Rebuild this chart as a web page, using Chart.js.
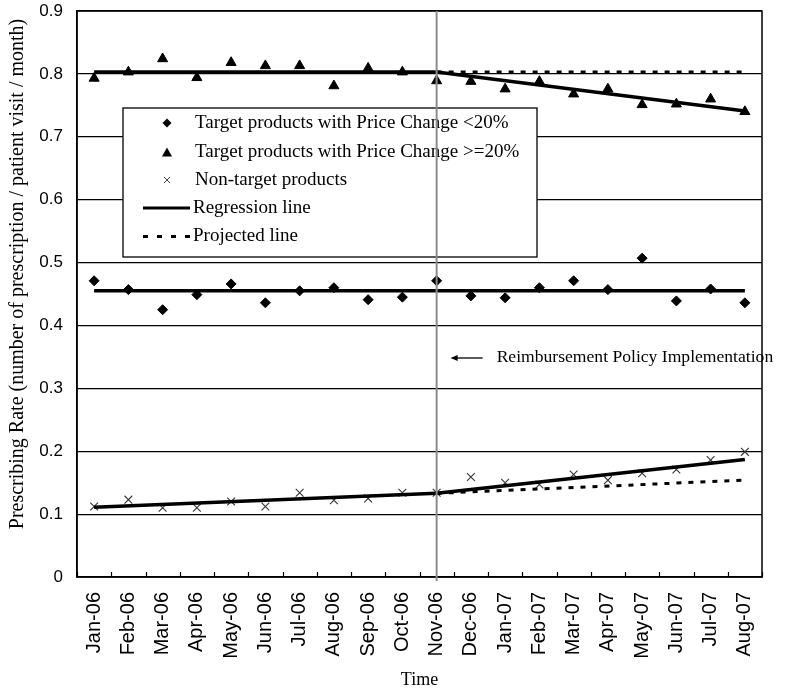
<!DOCTYPE html>
<html>
<head>
<meta charset="utf-8">
<script src="https://cdn.jsdelivr.net/npm/chart.js@4.4.1/dist/chart.umd.min.js"></script>
<style>
  html, body { margin: 0; padding: 0; background: #fff; }
  #wrap { width: 800px; height: 693px; }
</style>
</head>
<body>
<div id="wrap"><canvas id="chart" width="800" height="693"></canvas></div>
<script>
// --- data ---
const months = ['Jan-06', 'Feb-06', 'Mar-06', 'Apr-06', 'May-06', 'Jun-06', 'Jul-06', 'Aug-06', 'Sep-06', 'Oct-06',
                'Nov-06', 'Dec-06', 'Jan-07', 'Feb-07', 'Mar-07', 'Apr-07', 'May-07', 'Jun-07', 'Jul-07', 'Aug-07'];
const yTickLabels = ['0', '0.1', '0.2', '0.3', '0.4', '0.5', '0.6', '0.7', '0.8', '0.9'];

const lowChange  = [0.471, 0.457, 0.425, 0.449, 0.466, 0.436, 0.455, 0.460, 0.441, 0.445,
                    0.471, 0.447, 0.444, 0.460, 0.471, 0.457, 0.507, 0.439, 0.458, 0.436];
const highChange = [0.793, 0.803, 0.824, 0.794, 0.818, 0.813, 0.813, 0.781, 0.809, 0.803,
                    0.789, 0.788, 0.776, 0.788, 0.768, 0.776, 0.751, 0.752, 0.760, 0.740];
const nonTarget  = [0.112, 0.123, 0.110, 0.110, 0.120, 0.112, 0.134, 0.122, 0.125, 0.134,
                    0.134, 0.159, 0.150, 0.147, 0.163, 0.154, 0.165, 0.171, 0.186, 0.199];

// straight lines: [start month, end month, start value, end value]
const highRegBefore = ['Jan-06', 'Nov-06', 0.803, 0.803];
const highRegAfter  = ['Nov-06', 'Aug-07', 0.803, 0.741];
const highProjected = ['Nov-06', 'Aug-07', 0.803, 0.803];
const lowReg        = ['Jan-06', 'Aug-07', 0.455, 0.455];
const nonRegBefore  = ['Jan-06', 'Nov-06', 0.111, 0.133];
const nonRegAfter   = ['Nov-06', 'Aug-07', 0.133, 0.187];
const nonProjected  = ['Nov-06', 'Aug-07', 0.133, 0.154];

const policyMonth = 'Nov-06';

// only the two end points are set, the line spans the gap
function segment(seg) {
  const arr = months.map(() => null);
  arr[months.indexOf(seg[0])] = seg[2];
  arr[months.indexOf(seg[1])] = seg[3];
  return arr;
}

const serif = "'Liberation Serif', 'Times New Roman', serif";
const sans = "'Liberation Sans', Arial, sans-serif";

function markers(label, data, style, radius, width, color) {
  return {
    label: label, data: data, showLine: false,
    pointStyle: style, pointRadius: radius, pointHoverRadius: radius,
    pointBackgroundColor: color, pointBorderColor: color, pointBorderWidth: width
  };
}
function line(data, dashed) {
  return {
    data: data, spanGaps: true, pointRadius: 0, borderColor: '#000',
    borderWidth: dashed ? 3 : 3.5, borderDash: dashed ? [5, 7] : [], tension: 0
  };
}

// frame, inside ticks and the legend box go under the data
const underlay = {
  id: 'underlay',
  beforeDatasetsDraw(chart) {
    const { ctx, chartArea: a, scales: { x } } = chart;
    ctx.save();
    ctx.strokeStyle = '#000';
    ctx.lineWidth = 1.5;
    ctx.strokeRect(a.left, a.top, a.right - a.left, a.bottom - a.top);
    // tick marks pointing up into the plot
    ctx.beginPath();
    for (let i = 0; i <= months.length; i++) {
      const px = Math.round(x.getPixelForValue(i - 0.5)) + 0.5;
      ctx.moveTo(px, a.bottom);
      ctx.lineTo(px, a.bottom - 5);
    }
    ctx.lineWidth = 1.2;
    ctx.stroke();

    // legend box
    const bx = a.left + 46, by = a.top + 97, bw = 414, bh = 149;
    ctx.fillStyle = '#fff';
    ctx.fillRect(bx, by, bw, bh);
    ctx.lineWidth = 1.3;
    ctx.strokeRect(bx, by, bw, bh);

    const rows = [by + 15, by + 44.5, by + 72, by + 100, by + 128.5];
    const mx = bx + 44, tx = bx + 72;
    ctx.fillStyle = '#000';
    // diamond
    ctx.beginPath();
    ctx.moveTo(mx, rows[0] - 4.5); ctx.lineTo(mx + 4.5, rows[0]);
    ctx.lineTo(mx, rows[0] + 4.5); ctx.lineTo(mx - 4.5, rows[0]);
    ctx.closePath(); ctx.fill();
    // triangle
    ctx.beginPath();
    ctx.moveTo(mx, rows[1] - 5); ctx.lineTo(mx + 5, rows[1] + 4);
    ctx.lineTo(mx - 5, rows[1] + 4);
    ctx.closePath(); ctx.fill();
    // cross
    ctx.strokeStyle = '#444';
    ctx.lineWidth = 1;
    ctx.beginPath();
    ctx.moveTo(mx - 3, rows[2] - 3); ctx.lineTo(mx + 3, rows[2] + 3);
    ctx.moveTo(mx + 3, rows[2] - 3); ctx.lineTo(mx - 3, rows[2] + 3);
    ctx.stroke();
    // solid and dashed samples
    ctx.strokeStyle = '#000';
    ctx.lineWidth = 3;
    ctx.beginPath();
    ctx.moveTo(bx + 20, rows[3]); ctx.lineTo(bx + 67, rows[3]);
    ctx.stroke();
    ctx.setLineDash([5, 9]);
    ctx.beginPath();
    ctx.moveTo(bx + 20, rows[4]); ctx.lineTo(bx + 67, rows[4]);
    ctx.stroke();
    ctx.setLineDash([]);

    ctx.font = '19px ' + serif;
    ctx.textBaseline = 'middle';
    ctx.textAlign = 'left';
    ctx.fillText('Target products with Price Change <20%', tx, rows[0]);
    ctx.fillText('Target products with Price Change >=20%', tx, rows[1]);
    ctx.fillText('Non-target products', tx, rows[2]);
    ctx.fillText('Regression line', tx - 2, rows[3]);
    ctx.fillText('Projected line', tx - 2, rows[4]);
    ctx.restore();
  }
};

// policy line, annotation and axis titles go on top
const overlay = {
  id: 'overlay',
  afterDatasetsDraw(chart) {
    const { ctx, chartArea: a, scales: { x } } = chart;
    const px = x.getPixelForValue(months.indexOf(policyMonth));
    ctx.save();
    ctx.strokeStyle = '#8c8c8c';
    ctx.lineWidth = 2;
    ctx.beginPath();
    ctx.moveTo(px, a.top);
    ctx.lineTo(px, a.bottom + 4);
    ctx.stroke();

    // arrow pointing at the policy line
    const ay = 358;
    ctx.strokeStyle = '#000';
    ctx.lineWidth = 1.3;
    ctx.beginPath();
    ctx.moveTo(px + 46, ay);
    ctx.lineTo(px + 16, ay);
    ctx.stroke();
    ctx.fillStyle = '#000';
    ctx.beginPath();
    ctx.moveTo(px + 14, ay);
    ctx.lineTo(px + 21, ay - 3);
    ctx.lineTo(px + 21, ay + 3);
    ctx.closePath();
    ctx.fill();

    ctx.font = '17.6px ' + serif;
    ctx.textBaseline = 'middle';
    ctx.textAlign = 'left';
    ctx.fillText('Reimbursement Policy Implementation', px + 60, ay - 1);

    ctx.font = '18px ' + serif;
    ctx.textAlign = 'center';
    ctx.fillText('Time', (a.left + a.right) / 2 + 0, 680);

    ctx.font = '20px ' + serif;
    ctx.translate(18, 274);
    ctx.rotate(-Math.PI / 2);
    ctx.fillText('Prescribing Rate (number of prescription / patient visit / month)', 0, 0);
    ctx.restore();
  }
};

new Chart(document.getElementById('chart'), {
  type: 'line',
  data: {
    labels: months,
    datasets: [
      line(segment(highRegBefore), false),
      line(segment(highRegAfter), false),
      line(segment(highProjected), true),
      line(segment(lowReg), false),
      line(segment(nonRegBefore), false),
      line(segment(nonRegAfter), false),
      line(segment(nonProjected), true),
      markers('Target products with Price Change <20%', lowChange, 'rectRot', 5, 1, '#000'),
      markers('Target products with Price Change >=20%', highChange, 'triangle', 5.8, 1, '#000'),
      markers('Non-target products', nonTarget, 'crossRot', 5.5, 1.1, '#333')
    ]
  },
  options: {
    responsive: false,
    animation: false,
    events: [],
    layout: { padding: { top: 11, right: 38, left: 0, bottom: 0 } },
    plugins: { legend: { display: false }, tooltip: { enabled: false } },
    scales: {
      x: {
        type: 'category',
        offset: true,
        afterFit(s) { s.height = 116; },
        grid: { display: false, drawTicks: false },
        border: { display: true, color: '#000', width: 1.5 },
        ticks: {
          autoSkip: false, minRotation: 90, maxRotation: 90, padding: 15,
          color: '#000', font: { family: sans, size: 20 }
        }
      },
      y: {
        min: 0, max: 0.9,
        afterFit(s) { s.width = 77; s.paddingTop = 0; s.paddingBottom = 0; },
        afterBuildTicks(s) { s.ticks = yTickLabels.map(t => ({ value: parseFloat(t) })); },
        grid: { color: '#000', lineWidth: 1.2, drawTicks: false },
        border: { display: true, color: '#000', width: 1.5 },
        ticks: {
          padding: 14, color: '#000', font: { family: sans, size: 17 },
          callback: (v, i) => yTickLabels[i]
        }
      }
    }
  },
  plugins: [underlay, overlay]
});
</script>
</body>
</html>
